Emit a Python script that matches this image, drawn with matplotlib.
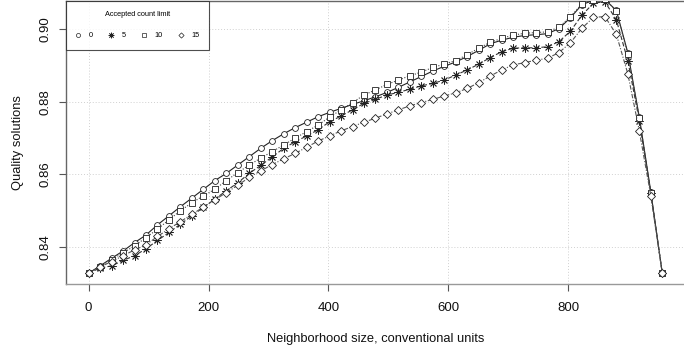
import numpy as np
import matplotlib
matplotlib.use("Agg")
import matplotlib.pyplot as plt
from matplotlib.lines import Line2D

plt.rcParams['font.family'] = ['Liberation Sans', 'DejaVu Sans']

# neighborhood sizes (51 evenly spaced samples)
x = np.round(np.linspace(0, 957, 51), 1)

limits = ["0", "5", "10", "15"]

q0 = [0.8328, 0.8348, 0.8369, 0.8389, 0.8412, 0.8433, 0.8461, 0.8486, 0.8511, 0.8535,
      0.8559, 0.8583, 0.8603, 0.8626, 0.8649, 0.8672, 0.8693, 0.8712, 0.8729, 0.8744,
      0.8759, 0.8771, 0.8782, 0.8793, 0.8803, 0.8814, 0.8826, 0.8840, 0.8855, 0.8870,
      0.8885, 0.8898, 0.8910, 0.8925, 0.8942, 0.8960, 0.8970, 0.8978, 0.8983, 0.8985,
      0.8988, 0.9002, 0.9032, 0.9068, 0.9080, 0.9082, 0.9052, 0.8935, 0.8758, 0.8552, 0.8328]
q5 = [0.8328, 0.8342, 0.8348, 0.8363, 0.8376, 0.8395, 0.8418, 0.8440, 0.8463, 0.8486,
      0.8509, 0.8532, 0.8555, 0.8577, 0.8603, 0.8625, 0.8648, 0.8672, 0.8690, 0.8706,
      0.8723, 0.8745, 0.8761, 0.8778, 0.8796, 0.8807, 0.8819, 0.8826, 0.8835, 0.8844,
      0.8851, 0.8860, 0.8874, 0.8888, 0.8904, 0.8922, 0.8938, 0.8948, 0.8949, 0.8949,
      0.8952, 0.8966, 0.8995, 0.9039, 0.9072, 0.9076, 0.9026, 0.8913, 0.8748, 0.8549, 0.8328]
q10 = [0.8328, 0.8346, 0.8365, 0.8384, 0.8403, 0.8426, 0.8449, 0.8475, 0.8500, 0.8522,
       0.8541, 0.8559, 0.8583, 0.8605, 0.8626, 0.8645, 0.8663, 0.8681, 0.8700, 0.8718,
       0.8736, 0.8758, 0.8778, 0.8798, 0.8819, 0.8833, 0.8848, 0.8860, 0.8872, 0.8882,
       0.8895, 0.8904, 0.8914, 0.8930, 0.8948, 0.8964, 0.8975, 0.8984, 0.8989, 0.8991,
       0.8993, 0.9006, 0.9035, 0.9070, 0.9082, 0.9084, 0.9050, 0.8931, 0.8755, 0.8549, 0.8328]
q15 = [0.8328, 0.8345, 0.8360, 0.8376, 0.8392, 0.8406, 0.8429, 0.8450, 0.8470, 0.8490,
       0.8510, 0.8530, 0.8550, 0.8570, 0.8592, 0.8610, 0.8627, 0.8643, 0.8658, 0.8675,
       0.8692, 0.8706, 0.8720, 0.8732, 0.8744, 0.8755, 0.8767, 0.8778, 0.8789, 0.8798,
       0.8807, 0.8816, 0.8825, 0.8837, 0.8853, 0.8871, 0.8888, 0.8902, 0.8908, 0.8915,
       0.8920, 0.8936, 0.8963, 0.9003, 0.9033, 0.9035, 0.8986, 0.8877, 0.8720, 0.8541, 0.8328]

xticks = [0, 200, 400, 600, 800]
yticks = [0.84, 0.86, 0.88, 0.90]

series = [q0, q5, q10, q15]
markers = ['o', (8, 2, 0), 's', 'D']
msizes = [4.2, 5.8, 3.9, 3.8]
lstyles = ['-', (0, (4, 2)), (0, (1, 1.5)), (0, (4, 1.5, 1, 1.5))]
lcols = ['#222222', '#333333', '#444444', '#555555']

fig = plt.figure(figsize=(6.84, 3.49), dpi=100)
ax = fig.add_axes([65.7 / 684, 1 - 284 / 349, (685.4 - 65.7) / 684, 283 / 349])

for xv in xticks:
    ax.axvline(xv, color='#d0d0d0', lw=0.7, ls=(0, (1, 2)), zorder=0)
for yv in yticks:
    ax.axhline(yv, color='#d0d0d0', lw=0.7, ls=(0, (1, 2)), zorder=0)

for q, m, ms, ls, lc in zip(series, markers, msizes, lstyles, lcols):
    ax.plot(x, q, color=lc, lw=0.8, ls=ls, marker=m, ms=ms, mfc='white' if m != (8, 2, 0) else lc,
            mec='#222222', mew=0.6, zorder=3)

ax.set_xlim(-38.3, 995.6)
ax.set_ylim(0.8298, 0.9078)
ax.set_xticks(xticks)
ax.set_xticklabels([str(v) for v in xticks])
ax.set_yticks(yticks)
ax.set_yticklabels([f"{v:.2f}" for v in yticks], rotation=90, va='center')
ax.tick_params(axis='both', direction='out', length=5.3, width=0.8, color='#555555',
               labelsize=9.5, labelcolor='#111111', pad=8)
ax.tick_params(axis='y', pad=5)
for sp in ['left', 'bottom', 'top', 'right']:
    ax.spines[sp].set_color('#666666')
    ax.spines[sp].set_linewidth(1.0)
ax.spines['bottom'].set_color('#999999')

ax.set_xlabel("Neighborhood size, conventional units", fontsize=9.3, labelpad=13, color='#111111')
ax.set_ylabel("Quality solutions", fontsize=9.3, labelpad=11, color='#111111')

handles = [Line2D([], [], ls='none', marker=m, ms=ms * 0.7, mfc='white' if m != (8, 2, 0) else '#222222',
                  mec='#222222', mew=0.5) for m, ms in zip(markers, msizes)]
leg = ax.legend(handles, limits, title="Accepted count limit", ncol=4, loc='upper left',
                bbox_to_anchor=(0, 1), borderaxespad=0, fontsize=5.3, title_fontsize=5.3,
                frameon=True, fancybox=False, edgecolor='#222222', handlelength=0.6,
                handletextpad=1.1, columnspacing=2.2, borderpad=1.4, labelspacing=0.5)
leg.get_frame().set_linewidth(0.8)
leg._legend_box.sep = 10

fig.savefig("out.png", dpi=100)
